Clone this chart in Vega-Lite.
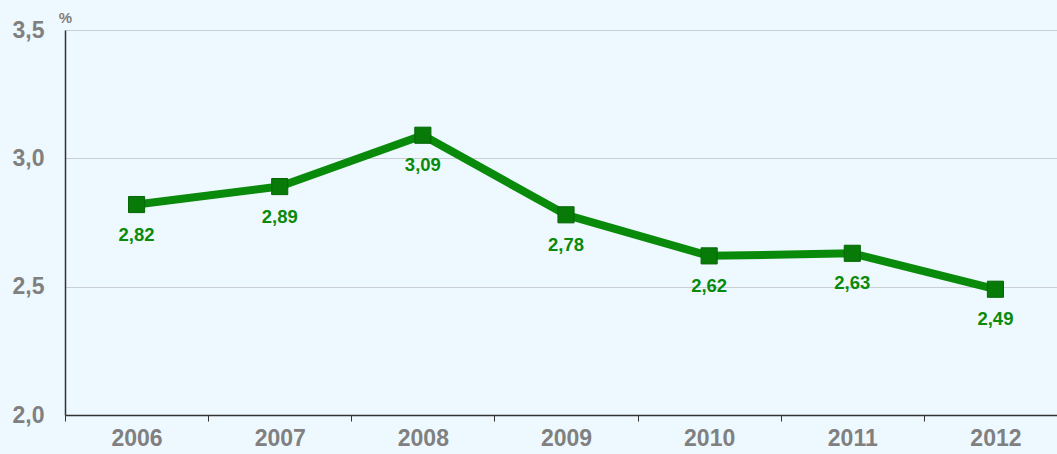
{
  "$schema": "https://vega.github.io/schema/vega-lite/v6.json",
  "width": 1002,
  "height": 385,
  "autosize": {"type": "none"},
  "padding": {"left": 65, "top": 30, "right": 0, "bottom": 39},
  "background": "#eef9ff",
  "config": {
    "locale": {"number": {"decimal": ",", "thousands": ".", "grouping": [3], "currency": ["", " €"]}},
    "view": {"stroke": null},
    "font": "Arial, Liberation Sans, sans-serif"
  },
  "data": {
    "values": [
      {"year": "2006", "value": 2.82},
      {"year": "2007", "value": 2.89},
      {"year": "2008", "value": 3.09},
      {"year": "2009", "value": 2.78},
      {"year": "2010", "value": 2.62},
      {"year": "2011", "value": 2.63},
      {"year": "2012", "value": 2.49}
    ]
  },
  "encoding": {
    "x": {
      "field": "year", "type": "ordinal",
      "scale": {"paddingInner": 0, "paddingOuter": 0},
      "axis": {
        "title": null, "labelAngle": 0, "labelFont": "Liberation Sans", "labelFontSize": 23, "labelFontWeight": "bold",
        "labelColor": "#808080", "labelPadding": 6, "tickBand": "extent", "tickSize": 6, "tickColor": "#333333",
        "domainColor": "#333333", "domainWidth": 1.5, "grid": false
      }
    },
    "y": {
      "field": "value", "type": "quantitative",
      "scale": {"domain": [2.0, 3.5], "nice": false, "zero": false},
      "axis": {
        "values": [2.0, 2.5, 3.0, 3.5], "format": ".1f",
        "labelFont": "Liberation Sans", "labelFontSize": 23, "labelFontWeight": "bold", "labelColor": "#808080",
        "labelPadding": 21, "ticks": false, "domainColor": "#333333", "domainWidth": 1.5,
        "gridColor": "#c8ced4", "gridWidth": 1,
        "title": "%", "titleAngle": 0, "titleX": 0, "titleY": -13, "titleAlign": "center", "titleBaseline": "middle",
        "titleFont": "Liberation Sans", "titleFontSize": 15, "titleFontWeight": "bold", "titleColor": "#808080"
      }
    }
  },
  "layer": [
    {"mark": {"type": "line", "color": "#0a8a0a", "strokeWidth": 8, "strokeJoin": "round"}},
    {"mark": {"type": "point", "shape": "square", "filled": true, "size": 260, "color": "#087a08", "stroke": "#066606", "strokeWidth": 1, "opacity": 1}},
    {
      "mark": {"type": "text", "dy": 30, "font": "Liberation Sans", "fontSize": 18.5, "fontWeight": "bold", "color": "#0a8a0a"},
      "encoding": {"text": {"field": "value", "type": "quantitative", "format": ".2f"}}
    }
  ]
}
